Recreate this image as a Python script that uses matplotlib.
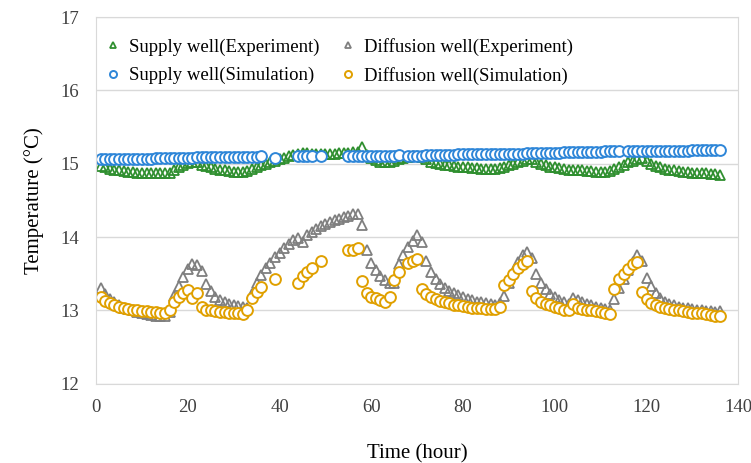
import numpy as np
import matplotlib
matplotlib.use('Agg')
from matplotlib import pyplot as plt

plt.rcParams.update({'font.family': 'Liberation Serif', 'font.size': 12})

nan = np.nan
hours = np.arange(1, 137)

supply_exp = [
    14.97, 14.95, 14.93, 14.92, 14.91, 14.90, 14.89, 14.89, 14.88, 14.88, 14.87, 14.87, 14.87, 14.87, 14.87, 14.88,
    14.92, 14.96, 14.99, 15.01, 15.03, 15.02,
    14.99, 14.97, 14.95, 14.93, 14.92, 14.91, 14.90, 14.89, 14.89, 14.89, 14.90,
    14.93, 14.96, 14.98, 15.00, 15.02, 15.04, 15.06, 15.08, 15.10, 15.12, 15.14, 15.15,
    15.15, 15.14, 15.14, 15.14, 15.14, 15.14, 15.14, 15.15, 15.15, 15.15, 15.16, 15.16,
    15.23,
    15.12, 15.08, 15.05, 15.03, 15.02, 15.02,
    15.04, 15.06, 15.08, 15.09, 15.10, 15.10, 15.09,
    15.06, 15.03, 15.01, 15.00, 14.99, 14.98, 14.97, 14.96, 14.95, 14.95, 14.94, 14.94, 14.93, 14.93, 14.93, 14.93, 14.94,
    14.96, 14.98, 15.00, 15.02, 15.04, 15.06, 15.06,
    15.03, 15.00, 14.98, 14.96, 14.95, 14.94, 14.93, 14.92, 14.92, 14.91, 14.91, 14.90, 14.90, 14.89, 14.89, 14.89, 14.90,
    14.93, 14.96, 14.99, 15.02, 15.04, 15.06, 15.08,
    15.04, 15.00, 14.97, 14.95, 14.93, 14.92, 14.91, 14.90, 14.89, 14.89, 14.88, 14.88, 14.87, 14.87, 14.86, 14.86, 14.85,
]

diffusion_exp = [
    13.30, 13.22, 13.16, 13.11, 13.07, 13.04, 13.02, 13.00, 12.98, 12.96, 12.95, 12.94, 12.93, 12.93, 12.93, 12.98,
    13.20, 13.33, 13.45, 13.56, 13.64, 13.62, 13.54, 13.36,
    13.26, 13.19, 13.14, 13.11, 13.09, 13.07, 13.06, 13.05, 13.03,
    13.22, 13.38, 13.48, 13.58, 13.65, 13.73, 13.79, 13.85, 13.91, 13.96, 13.99, 13.94,
    14.03, 14.07, 14.11, 14.15, 14.18, 14.21, 14.23, 14.25, 14.27, 14.29, 14.31, 14.32,
    14.16, 13.82, 13.65, 13.55, 13.47, 13.41, 13.38, 13.37, 13.63, 13.76, 13.86, 13.95, 14.03, 13.93, 13.67,
    13.52, 13.43, 13.36, 13.31, 13.27, 13.24, 13.21, 13.18, 13.16, 13.14, 13.12, 13.11, 13.10, 13.09, 13.08, 13.10,
    13.20, 13.38, 13.52, 13.66, 13.76, 13.80, 13.72, 13.50, 13.38, 13.29, 13.23, 13.18, 13.14, 13.11, 13.09,
    13.17, 13.14, 13.11, 13.09, 13.07, 13.05, 13.03, 13.02, 13.01,
    13.15, 13.30, 13.43, 13.55, 13.66, 13.76, 13.67, 13.44, 13.33, 13.24, 13.17, 13.12,
    13.09, 13.07, 13.05, 13.04, 13.03, 13.02, 13.01, 13.00, 12.99, 12.99, 12.98, 12.99,
]

supply_sim = [
    15.06, 15.06, 15.06, 15.06, 15.06, 15.07, 15.07, 15.07, 15.07, 15.07, 15.07, 15.07, 15.08, 15.08, 15.08, 15.08,
    15.08, 15.08, 15.08, 15.08, 15.08, 15.09, 15.09, 15.09, 15.09, 15.09, 15.09, 15.09, 15.09, 15.09, 15.09, 15.09,
    15.09, 15.09, 15.09, 15.10,
    nan, nan, 15.08, nan, nan, nan, nan,
    15.10, 15.10, 15.10, 15.10, nan, 15.10,
    nan, nan, nan, nan, nan,
    15.10, 15.10, 15.10, 15.10, 15.10, 15.10, 15.10, 15.11, 15.11, 15.11, 15.11, 15.12,
    nan,
    15.11, 15.11, 15.11, 15.11, 15.12, 15.12, 15.12, 15.12, 15.12, 15.12, 15.12, 15.13, 15.13, 15.13, 15.13, 15.13,
    15.13, 15.13, 15.14, 15.14, 15.14, 15.14, 15.14,
    15.14, 15.14, 15.14, 15.15, 15.15, 15.15, 15.15, 15.15, 15.15, 15.15, 15.15, 15.16, 15.16, 15.16, 15.16, 15.16,
    15.16, 15.16, 15.16, 15.16, 15.17, 15.17, 15.17,
    15.17, nan,
    15.17, 15.17, 15.17, 15.17, 15.17, 15.18, 15.18, 15.18, 15.18, 15.18, 15.18, 15.18, 15.18, 15.18, 15.19, 15.19,
    15.19, 15.19, 15.19, 15.19, 15.19,
]

diffusion_sim = [
    13.19, 13.13, 13.10, 13.07, 13.05, 13.03, 13.02, 13.01, 13.00, 12.99, 12.99, 12.98, 12.98, 12.97, 12.97, 13.01,
    13.12, 13.19, 13.24, 13.28, 13.17, 13.24, 13.05, 13.01,
    13.00, 12.99, 12.98, 12.98, 12.97, 12.97, 12.96, 12.95, 13.00,
    13.17, 13.25, 13.32, nan, nan, 13.43, nan, nan, nan, nan,
    13.37, 13.47, 13.53, 13.58, nan, 13.68, nan, nan, nan, nan, nan,
    13.83, 13.83, 13.85, 13.40, 13.24, 13.19, 13.17, 13.14, 13.11, 13.18, 13.42, 13.52, nan,
    13.65, 13.68, 13.70, 13.29, 13.22, 13.18, 13.15, 13.13, 13.11, 13.10, 13.08, 13.07, 13.06, 13.05, 13.04, 13.03,
    13.03, 13.02, 13.02, 13.02, 13.05,
    13.35, 13.42, 13.50, 13.58, 13.64, 13.67, 13.26, 13.17, 13.12, 13.09, 13.07, 13.05, 13.03, 13.00, 13.01,
    13.09, 13.04, 13.02, 13.01, 13.00, 12.99, 12.98, 12.97, 12.95,
    13.29, 13.43, 13.50, 13.57, 13.63, 13.66, 13.25, 13.15, 13.10, 13.07, 13.05, 13.03,
    13.02, 13.01, 13.00, 12.99, 12.98, 12.97, 12.97, 12.96, 12.95, 12.94, 12.93, 12.93,
]

green = '#2f8f2f'
gray = '#7f7f7f'
blue = '#2e86d8'
orange = '#e0a000'

fig = plt.figure(figsize=(7.51, 4.63), dpi=100)
ax = fig.add_axes([0.128, 0.171, 0.855, 0.792])

l1, = ax.plot(hours, supply_exp, '^', ms=7.5, mfc='none', mec=green, mew=1.3, ls='none', label='Supply well(Experiment)')
l2, = ax.plot(hours, diffusion_exp, '^', ms=7.5, mfc='none', mec=gray, mew=1.3, ls='none', label='Diffusion well(Experiment)')
l3, = ax.plot(hours, supply_sim, 'o', ms=7.8, mfc='white', mec=blue, mew=1.4, ls='none', label='Supply well(Simulation)')
l4, = ax.plot(hours, diffusion_sim, 'o', ms=7.8, mfc='white', mec=orange, mew=1.4, ls='none', label='Diffusion well(Simulation)')

ax.set_xlim(0, 140)
ax.set_ylim(12, 17)
ax.set_xticks(np.arange(0, 141, 20))
ax.set_yticks(np.arange(12, 18, 1))
ax.yaxis.grid(True, color='#d9d9d9', lw=1)
ax.set_axisbelow(True)
for s in ax.spines.values():
    s.set_color('#d9d9d9')
ax.tick_params(length=0, labelsize=13.5, colors='#404040')
ax.tick_params(axis='x', pad=11)
ax.tick_params(axis='y', pad=12)

ax.set_xlabel('Time (hour)', fontsize=15, labelpad=20)
ax.set_ylabel('Temperature (\u00b0C)', fontsize=15, labelpad=12)

# column-major fill so rows read Experiment / Simulation
leg = ax.legend([l1, l3, l2, l4], [l.get_label() for l in (l1, l3, l2, l4)],
                ncol=2, loc='upper left', bbox_to_anchor=(-0.011, 0.99), frameon=False,
                fontsize=13.5, handletextpad=0.45, handlelength=0.8, columnspacing=1.1,
                labelspacing=0.6, markerscale=0.65)

plt.savefig('out.png', dpi=100)
